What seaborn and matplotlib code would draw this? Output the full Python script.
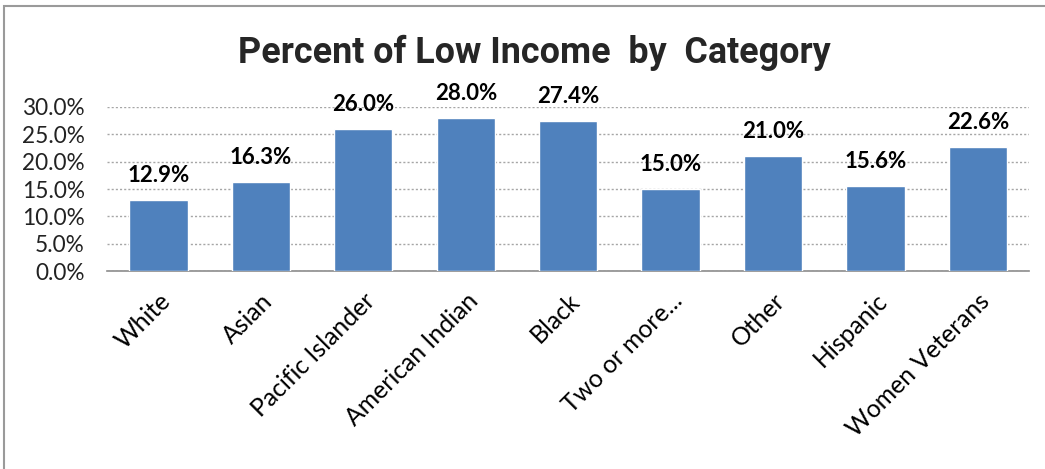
import matplotlib
matplotlib.use("Agg")
import matplotlib.pyplot as plt
import seaborn as sns
import pandas as pd
from matplotlib.ticker import PercentFormatter
from matplotlib.patches import Rectangle

categories = ["White", "Asian", "Pacific Islander", "American Indian", "Black",
              "Two or more...", "Other", "Hispanic", "Women Veterans"]
values = [12.9, 16.3, 26.0, 28.0, 27.4, 15.0, 21.0, 15.6, 22.6]
yticks = [0, 5, 10, 15, 20, 25, 30]
title = "Percent of Low Income  by  Category"

sns.set_theme(style="white")
plt.rcParams['font.family'] = ['Lato', 'DejaVu Sans']

df = pd.DataFrame({"category": categories, "value": values})

fig = plt.figure(figsize=(10.45, 4.69), dpi=100)
ax = fig.add_axes([0.1025, 0.422, 0.8825, 0.35])
sns.barplot(data=df, x="category", y="value", color="#4F81BD", saturation=1,
            width=0.57, ax=ax, zorder=3)

ax.set_ylim(0, 30)
ax.set_xlim(-0.5, len(categories) - 0.5)
ax.set_yticks(yticks)
ax.yaxis.set_major_formatter(PercentFormatter(decimals=1))
ax.grid(axis="y", linestyle=(0, (1.5, 1.5)), color="#A6A6A6", linewidth=1, zorder=0)
ax.set_axisbelow(True)
for s in ["top", "right", "left"]:
    ax.spines[s].set_visible(False)
ax.spines["bottom"].set_color("#8C8C8C")
ax.spines["bottom"].set_linewidth(1.2)
ax.set_xlabel("")
ax.set_ylabel("")
ax.tick_params(axis="y", labelsize=16.3, colors="#222222", length=0, pad=16)
ax.tick_params(axis="x", labelsize=17.8, colors="#000000", length=0, pad=13)
plt.setp(ax.get_xticklabels(), rotation=45, ha="right", rotation_mode="anchor")

for i, v in enumerate(values):
    ax.annotate(f"{v:.1f}%", xy=(i, v), xytext=(0, 13), textcoords="offset points",
                ha="center", va="baseline", fontsize=16, fontweight="bold",
                color="#000000", annotation_clip=False)

fig.text(0.511, 0.866, title, ha="center", va="baseline", fontsize=25.8,
         fontweight="bold", family=["Roboto", "DejaVu Sans"])

fig.patches.append(Rectangle((4 / 1045, -0.1), 1.2, 1 - 6 / 469 + 0.1,
                             transform=fig.transFigure, fill=False,
                             edgecolor="#9A9A9A", linewidth=1.5))

fig.savefig("out.png", dpi=100)
